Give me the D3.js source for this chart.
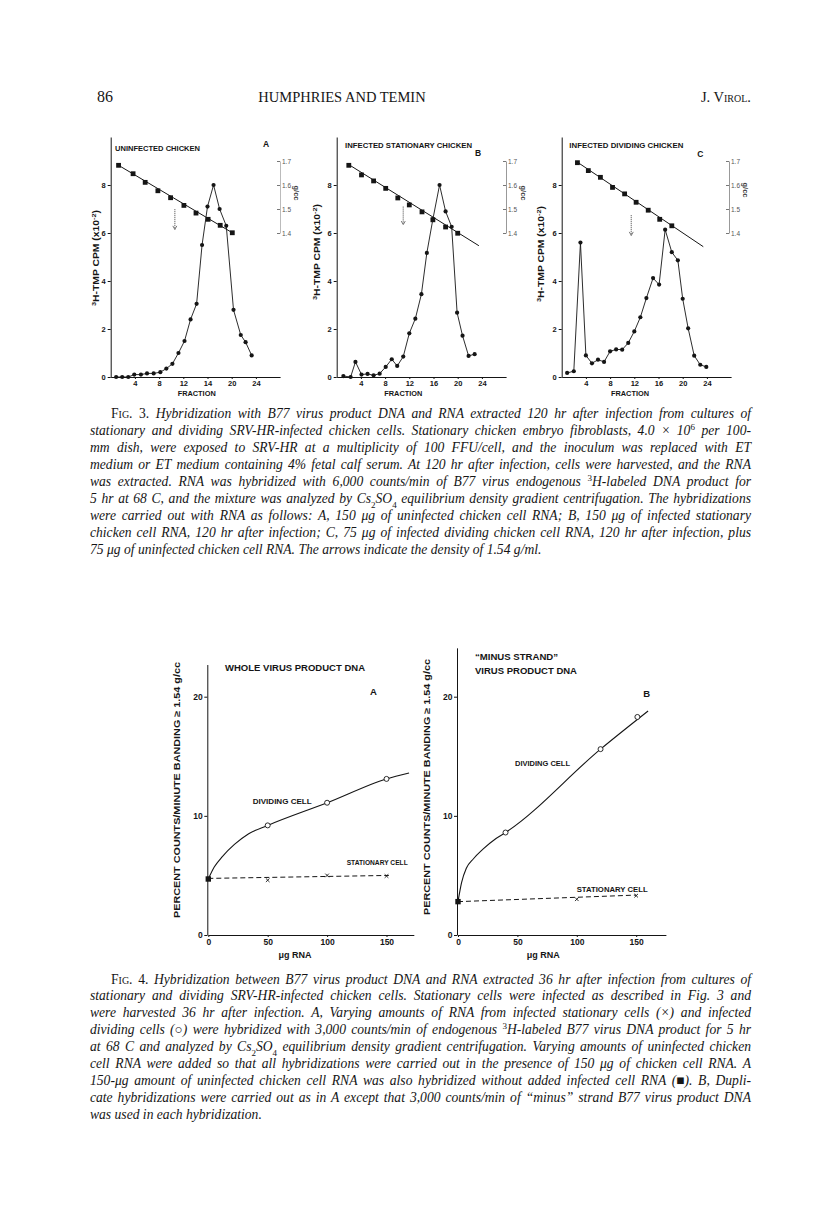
<!DOCTYPE html>
<html>
<head>
<meta charset="utf-8">
<script src="https://cdn.jsdelivr.net/npm/d3@7"></script>
<style>
  body { margin: 0; background: #fff; }
  svg { display: block; }
</style>
</head>
<body>
<div id="page"></div>
<script>
// ---- Fig. 3 data (fraction number, 3H-TMP cpm x10^-2, density g/cc) ----
const fracTicks = [4, 8, 12, 16, 20, 24];
const fracTickLabelsA = ["4", "8", "12", "14", "20", "24"]; // as printed in panel A
const fracTickLabels = ["4", "8", "12", "16", "20", "24"];
const cpmTicks = [0, 2, 4, 6, 8];
const densTicks = [1.4, 1.5, 1.6, 1.7];

const fracA = [0.9, 1.9, 2.9, 3.9, 5.0, 6.0, 7.1, 8.2, 9.2, 10.2, 11.2, 12.2, 13.2, 14.2, 15.1, 16.0, 17.0, 18.0, 19.1, 20.3, 21.5, 22.3, 23.3];
const cpmA = [0, 0, 0, 0.1, 0.1, 0.15, 0.15, 0.2, 0.35, 0.55, 1.0, 1.5, 2.4, 3.05, 5.5, 7.1, 8.0, 7.0, 6.3, 2.8, 1.75, 1.45, 0.9];
const densFracA = [1.3, 3.7, 5.7, 7.8, 9.9, 12.1, 14.1, 16.1, 18.1, 20.1];
const densA = [1.682, 1.647, 1.611, 1.576, 1.547, 1.515, 1.483, 1.457, 1.432, 1.401];
const fitA = [[1.3, 1.682], [20.1, 1.401]];

const fracB = [1.1, 2.3, 3.1, 4.1, 5.1, 6.1, 7.1, 8.1, 9.1, 10.0, 11.0, 12.0, 13.0, 14.0, 14.9, 15.9, 17.0, 18.0, 19.0, 19.9, 20.8, 21.8, 22.8];
const cpmB = [0.04, 0, 0.63, 0.1, 0.13, 0.07, 0.14, 0.42, 0.74, 0.46, 0.85, 1.82, 2.43, 3.45, 5.17, 6.58, 8.0, 6.9, 6.26, 2.68, 1.72, 0.88, 0.95];
const densFracB = [2.0, 4.1, 6.1, 8.1, 10.1, 12.0, 14.1, 15.9, 18.0, 20.0];
const densB = [1.682, 1.642, 1.617, 1.586, 1.546, 1.517, 1.488, 1.455, 1.425, 1.399];
const fitB = [[2.0, 1.685], [23.5, 1.347]];

const fracC = [0.9, 2.0, 3.1, 4.0, 5.0, 6.0, 7.0, 8.0, 9.0, 10.0, 11.0, 12.0, 13.0, 14.0, 15.1, 16.1, 17.1, 18.2, 19.2, 20.0, 20.9, 21.9, 22.9, 23.9];
const cpmC = [0.17, 0.24, 5.6, 0.9, 0.57, 0.72, 0.63, 1.07, 1.15, 1.14, 1.42, 1.9, 2.49, 3.29, 4.12, 3.85, 6.14, 5.2, 4.86, 3.26, 2.03, 0.89, 0.51, 0.42];
const densFracC = [2.6, 4.4, 6.4, 8.4, 10.4, 12.3, 14.3, 16.2, 18.2];
const densC = [1.693, 1.66, 1.632, 1.59, 1.563, 1.528, 1.495, 1.457, 1.43];
const fitC = [[2.6, 1.695], [23.4, 1.343]];

// arrows marking 1.54 g/ml: fraction, cpm top, cpm bottom
const arrowA = [10.6, 7.0, 6.15];
const arrowB = [11.0, 7.1, 6.35];
const arrowC = [11.5, 6.75, 5.9];

// ---- Fig. 4 data (ug RNA, percent counts banding >= 1.54 g/cc) ----
const rnaTicks = [0, 50, 100, 150];
const pctTicks = [0, 10, 20];

const dividingA = [[50, 9.2], [100, 11.1], [150, 13.1]];
const stationaryA = [[50, 4.6], [100, 5.0], [150, 4.95]];
const uninfectedA = [[0, 4.7]];
const dividingCurveA = [[0, 4.7], [5, 5.7], [12, 6.6], [22, 7.6], [34, 8.5], [50, 9.2], [100, 11.1], [150, 13.1], [169, 13.6]];
const stationaryLineA = [[0, 4.75], [152, 5.0]];

const dividingB = [[40, 8.6], [120, 15.6], [151, 18.3]];
const stationaryB = [[100, 3.0], [150, 3.3]];
const uninfectedB = [[0, 2.8]];
const dividingCurveB = [[0, 2.8], [3, 4.4], [7, 5.6], [13, 6.4], [21, 7.2], [32, 8.1], [40, 8.6], [120, 15.6], [160, 18.8]];
const stationaryLineB = [[0, 2.8], [150, 3.35]];

// ---- captions ----
const fig3Caption = [
  "[Fig. 3.] Hybridization with B77 virus product DNA and RNA extracted 120 hr after infection from cultures of",
  "stationary and dividing SRV-HR-infected chicken cells. Stationary chicken embryo fibroblasts, 4.0 × 10^{6} per 100-",
  "mm dish, were exposed to SRV-HR at a multiplicity of 100 FFU/cell, and the inoculum was replaced with ET",
  "medium or ET medium containing 4% fetal calf serum. At 120 hr after infection, cells were harvested, and the RNA",
  "was extracted. RNA was hybridized with 6,000 counts/min of B77 virus endogenous ^{3}H-labeled DNA product for",
  "5 hr at 68 C, and the mixture was analyzed by Cs_{2}SO_{4} equilibrium density gradient centrifugation. The hybridizations",
  "were carried out with RNA as follows: A, 150 μg of uninfected chicken cell RNA; B, 150 μg of infected stationary",
  "chicken cell RNA, 120 hr after infection; C, 75 μg of infected dividing chicken cell RNA, 120 hr after infection, plus",
  "75 μg of uninfected chicken cell RNA. The arrows indicate the density of 1.54 g/ml."
];
const fig4Caption = [
  "[Fig. 4.] Hybridization between B77 virus product DNA and RNA extracted 36 hr after infection from cultures of",
  "stationary and dividing SRV-HR-infected chicken cells. Stationary cells were infected as described in Fig. 3 and",
  "were harvested 36 hr after infection. A, Varying amounts of RNA from infected stationary cells (×) and infected",
  "dividing cells (○) were hybridized with 3,000 counts/min of endogenous ^{3}H-labeled B77 virus DNA product for 5 hr",
  "at 68 C and analyzed by Cs_{2}SO_{4} equilibrium density gradient centrifugation. Varying amounts of uninfected chicken",
  "cell RNA were added so that all hybridizations were carried out in the presence of 150 μg of chicken cell RNA. A",
  "150-μg amount of uninfected chicken cell RNA was also hybridized without added infected cell RNA (■). B, Dupli-",
  "cate hybridizations were carried out as in A except that 3,000 counts/min of “minus” strand B77 virus product DNA",
  "was used in each hybridization."
];

const INK = "#151515";
const SANS = "'Liberation Sans', Arial, sans-serif";
const SERIF = "'Liberation Serif', 'Times New Roman', serif";

const svg = d3.select("#page").append("svg")
  .attr("width", 816)
  .attr("height", 1213);

svg.append("rect").attr("width", 816).attr("height", 1213).attr("fill", "#fff");

// running head
svg.append("text").attr("x", 97).attr("y", 102)
  .style("font-family", SERIF).style("font-size", "16px").attr("fill", INK).text("86");
svg.append("text").attr("x", 342).attr("y", 102).attr("text-anchor", "middle")
  .style("font-family", SERIF).style("font-size", "14.5px").attr("fill", INK).text("HUMPHRIES AND TEMIN");
svg.append("text").attr("x", 751).attr("y", 102).attr("text-anchor", "end")
  .style("font-family", SERIF).style("font-size", "14.5px").style("font-variant", "small-caps")
  .attr("fill", INK).text("J. Virol.");

function label(g, x, y, str, size, opts = {}) {
  const t = g.append("text")
    .attr("x", x).attr("y", y)
    .attr("dy", "0.35em")
    .attr("text-anchor", opts.anchor || "start")
    .style("font-family", SANS)
    .style("font-size", size + "px")
    .style("font-weight", opts.weight || "bold")
    .attr("fill", opts.fill || INK)
    .text(str);
  if (opts.width) t.attr("textLength", opts.width).attr("lengthAdjust", "spacingAndGlyphs");
  if (opts.rotate) t.attr("transform", `rotate(${opts.rotate},${x},${y})`);
  return t;
}

function styleAxis(ax, size) {
  ax.select(".domain").attr("stroke", INK).attr("stroke-width", 1);
  ax.selectAll(".tick line").attr("stroke", INK);
  ax.selectAll("text").style("font-family", SANS).style("font-size", size + "px")
    .style("font-weight", "bold").attr("fill", INK);
}

// ---------------- Fig. 3 ----------------
const fig3Panels = [
  { axisX: 110.7, title: "UNINFECTED CHICKEN", titleX: 115, titleY: 148.3, titleW: 85,
    letter: "A", letterX: 263, letterY: 144, rightX: 280, gccX: 297, gccY: 193, rightFill: "#bbb",
    frac: fracA, cpm: cpmA, densFrac: densFracA, dens: densA, fit: fitA, arrow: arrowA,
    xLabels: fracTickLabelsA, fracLabelX: 196.7, yLabelX: 95.7, yLabelY: 258 },
  { axisX: 336.7, title: "INFECTED STATIONARY CHICKEN", titleX: 345, titleY: 145, titleW: 127,
    letter: "B", letterX: 475, letterY: 153.3, rightX: 506, gccX: 524, gccY: 193, rightFill: "#999",
    frac: fracB, cpm: cpmB, densFrac: densFracB, dens: densB, fit: fitB, arrow: arrowB,
    xLabels: fracTickLabels, fracLabelX: 403.3, yLabelX: 316.7, yLabelY: 252 },
  { axisX: 561.7, title: "INFECTED DIVIDING CHICKEN", titleX: 569.3, titleY: 145, titleW: 114,
    letter: "C", letterX: 697.3, letterY: 154.3, rightX: 729, gccX: 746, gccY: 190, rightFill: "#999",
    frac: fracC, cpm: cpmC, densFrac: densFracC, dens: densC, fit: fitC, arrow: arrowC,
    xLabels: fracTickLabels, fracLabelX: 630, yLabelX: 540.7, yLabelY: 254 }
];

fig3Panels.forEach(p => {
  const g = svg.append("g");
  const x = d3.scaleLinear().domain([0, 28]).range([p.axisX, p.axisX + 28 * 6.05]);
  const y = d3.scaleLinear().domain([0, 10]).range([377, 137]);
  const dens = d3.scaleLinear().domain([1.4, 1.7]).range([y(6), y(9)]);

  const xAx = g.append("g").attr("transform", `translate(0,${y(0)})`)
    .call(d3.axisBottom(x).tickValues(fracTicks).tickSize(2).tickSizeOuter(0).tickPadding(2)
      .tickFormat((d, i) => p.xLabels[i]));
  styleAxis(xAx, 7.5);

  const yAx = g.append("g").attr("transform", `translate(${p.axisX},0)`)
    .call(d3.axisLeft(y).tickValues(cpmTicks).tickSize(3).tickSizeOuter(0).tickPadding(2));
  styleAxis(yAx, 7.5);

  // density axis on the right
  const rAx = g.append("g").attr("transform", `translate(${p.rightX},0)`)
    .call(d3.axisRight(dens).tickValues(densTicks).tickSize(-3).tickSizeOuter(0).tickPadding(2)
      .tickFormat(d3.format(".1f")));
  rAx.select(".domain").attr("stroke", p.rightFill).attr("stroke-width", 1);
  rAx.selectAll(".tick line").attr("stroke", "#777");
  rAx.selectAll("text").style("font-family", SANS).style("font-size", "6.5px").attr("fill", "#555");
  label(g, p.gccX, p.gccY, "g/cc", 7.5, { anchor: "middle", rotate: 90, fill: "#444" });

  // density regression line + squares
  g.append("path").datum(p.fit)
    .attr("d", d3.line().x(d => x(d[0])).y(d => dens(d[1])))
    .attr("fill", "none").attr("stroke", INK).attr("stroke-width", 1);
  g.selectAll(".sq").data(d3.zip(p.densFrac, p.dens)).enter().append("rect")
    .attr("x", d => x(d[0]) - 2.4).attr("y", d => dens(d[1]) - 2.4)
    .attr("width", 4.8).attr("height", 4.8).attr("fill", INK);

  // cpm profile
  const pts = d3.zip(p.frac, p.cpm);
  g.append("path").datum(pts)
    .attr("d", d3.line().x(d => x(d[0])).y(d => y(d[1])))
    .attr("fill", "none").attr("stroke", INK).attr("stroke-width", 0.9);
  g.selectAll(".dot").data(pts).enter().append("circle")
    .attr("cx", d => x(d[0])).attr("cy", d => y(d[1])).attr("r", 2.1).attr("fill", INK);

  // arrow at 1.54 g/ml
  const ax = x(p.arrow[0]);
  g.append("line").attr("x1", ax).attr("x2", ax)
    .attr("y1", y(p.arrow[1])).attr("y2", y(p.arrow[2]))
    .attr("stroke", "#8a8a8a").attr("stroke-width", 1.3).attr("stroke-dasharray", "1.2,0.8");
  g.append("path")
    .attr("d", `M${ax - 2},${y(p.arrow[2]) - 3.5} L${ax},${y(p.arrow[2])} L${ax + 2},${y(p.arrow[2]) - 3.5}`)
    .attr("fill", "none").attr("stroke", "#777").attr("stroke-width", 1);

  label(g, p.titleX, p.titleY, p.title, 8, { width: p.titleW });
  label(g, p.letterX, p.letterY, p.letter, 8.5);
  label(g, p.fracLabelX, 393.3, "FRACTION", 8, { anchor: "middle", width: 38 });

  const yl = g.append("text")
    .attr("x", p.yLabelX).attr("y", p.yLabelY).attr("dy", "0.35em")
    .attr("text-anchor", "middle")
    .attr("transform", `rotate(-90,${p.yLabelX},${p.yLabelY})`)
    .attr("textLength", 96).attr("lengthAdjust", "spacingAndGlyphs")
    .style("font-family", SANS).style("font-size", "8.5px").style("font-weight", "bold")
    .attr("fill", INK);
  yl.append("tspan").attr("baseline-shift", "super").style("font-size", "6px").text("3");
  yl.append("tspan").text("H-TMP CPM (x10");
  yl.append("tspan").attr("baseline-shift", "super").style("font-size", "6px").text("-2");
  yl.append("tspan").text(")");
});

// ---------------- Fig. 4 ----------------
const fig4Panels = [
  { x0: 208.3, xEnd: 173, yTop: 22.7, dividing: dividingA, stationary: stationaryA, uninfected: uninfectedA,
    curve: dividingCurveA, dash: stationaryLineA,
    titles: [["WHOLE VIRUS PRODUCT DNA", 225, 668.3, 140]], letter: ["A", 370, 691.7],
    divLabel: [252.7, 801.7, 59], statLabel: [346.7, 862.7, 61],
    xLabelX: 295, yLabelX: 176.7, yLabelY: 790 },
  { x0: 458, xEnd: 175, yTop: 24.1, dividing: dividingB, stationary: stationaryB, uninfected: uninfectedB,
    curve: dividingCurveB, dash: stationaryLineB,
    titles: [["\u201CMINUS STRAND\u201D", 475, 656.7, 83], ["VIRUS PRODUCT DNA", 475, 670.7, 102]],
    letter: ["B", 643.3, 693.3],
    divLabel: [515, 763.3, 55], statLabel: [576.7, 889, 71],
    xLabelX: 543.3, yLabelX: 426.7, yLabelY: 787 }
];

fig4Panels.forEach(p => {
  const g = svg.append("g");
  const x = d3.scaleLinear().domain([0, p.xEnd]).range([p.x0, p.x0 + p.xEnd * 1.188]);
  const y = d3.scaleLinear().domain([0, p.yTop]).range([935, 935 - p.yTop * 11.915]);

  const xAx = g.append("g").attr("transform", `translate(0,${y(0)})`)
    .call(d3.axisBottom(x).tickValues(rnaTicks).tickSize(2).tickSizeOuter(0).tickPadding(2));
  styleAxis(xAx, 8.5);

  const yAx = g.append("g").attr("transform", `translate(${p.x0 - 1},0)`)
    .call(d3.axisLeft(y).tickValues(pctTicks).tickSize(3).tickSizeOuter(0).tickPadding(1.5));
  styleAxis(yAx, 8.5);

  // dividing cells curve
  g.append("path").datum(p.curve)
    .attr("d", d3.line().curve(d3.curveMonotoneX).x(d => x(d[0])).y(d => y(d[1])))
    .attr("fill", "none").attr("stroke", INK).attr("stroke-width", 1.1);
  // stationary cells dashed line
  g.append("path").datum(p.dash)
    .attr("d", d3.line().x(d => x(d[0])).y(d => y(d[1])))
    .attr("fill", "none").attr("stroke", INK).attr("stroke-width", 1).attr("stroke-dasharray", "5,3");

  g.selectAll(".open").data(p.dividing).enter().append("circle")
    .attr("cx", d => x(d[0])).attr("cy", d => y(d[1])).attr("r", 2.5)
    .attr("fill", "#fff").attr("stroke", INK).attr("stroke-width", 0.9);
  g.selectAll(".xm").data(p.stationary).enter().append("path")
    .attr("d", d => {
      const cx = x(d[0]), cy = y(d[1]);
      return `M${cx - 1.8},${cy - 1.8}L${cx + 1.8},${cy + 1.8}M${cx + 1.8},${cy - 1.8}L${cx - 1.8},${cy + 1.8}`;
    })
    .attr("stroke", INK).attr("stroke-width", 0.9);
  g.selectAll(".sq").data(p.uninfected).enter().append("rect")
    .attr("x", d => x(d[0]) - 2.7).attr("y", d => y(d[1]) - 2.7)
    .attr("width", 5.4).attr("height", 5.4).attr("fill", INK);

  p.titles.forEach(t => label(g, t[1], t[2], t[0], 9, { width: t[3] }));
  label(g, p.letter[1], p.letter[2], p.letter[0], 9.5);
  label(g, p.divLabel[0], p.divLabel[1], "DIVIDING CELL", 7.5, { width: p.divLabel[2] });
  label(g, p.statLabel[0], p.statLabel[1], "STATIONARY CELL", 7.5, { width: p.statLabel[2] });

  g.append("text").attr("x", p.xLabelX).attr("y", 955).attr("dy", "0.35em")
    .attr("text-anchor", "middle").style("font-family", SANS).style("font-size", "9px")
    .style("font-weight", "bold").attr("fill", INK).text("μg RNA");

  label(g, p.yLabelX, p.yLabelY, "PERCENT COUNTS/MINUTE BANDING \u2265 1.54 g/cc", 9,
    { anchor: "middle", rotate: -90, width: 256 });
});

// ---------------- captions ----------------
function drawCaption(lines, top, step) {
  lines.forEach((line, i) => {
    const t = svg.append("text")
      .attr("x", i === 0 ? 111 : 90)
      .attr("y", top + i * step)
      .style("font-family", SERIF).style("font-size", "13.6px").style("font-style", "italic")
      .attr("fill", INK);
    line.split(/(\^\{[^}]*\}|_\{[^}]*\}|\[[^\]]*\])/).filter(s => s.length).forEach(s => {
      if (s.startsWith("^{")) {
        t.append("tspan").attr("baseline-shift", "super").style("font-size", "9px").style("font-style", "normal").text(s.slice(2, -1));
      } else if (s.startsWith("_{")) {
        t.append("tspan").attr("baseline-shift", "sub").style("font-size", "9px").style("font-style", "normal").text(s.slice(2, -1));
      } else if (s.startsWith("[")) {
        t.append("tspan").style("font-style", "normal").style("font-variant", "small-caps").text(s.slice(1, -1));
      } else {
        t.append("tspan").text(s);
      }
    });
    if (i < lines.length - 1) {
      const target = 751 - (i === 0 ? 111 : 90);
      const w = t.node().getComputedTextLength();
      const n = (t.text().match(/ /g) || []).length;
      if (n) t.style("word-spacing", ((target - w) / n) + "px");
    }
  });
}

drawCaption(fig3Caption, 417.5, 17.0);
drawCaption(fig4Caption, 983.5, 16.9);
</script>
</body>
</html>
